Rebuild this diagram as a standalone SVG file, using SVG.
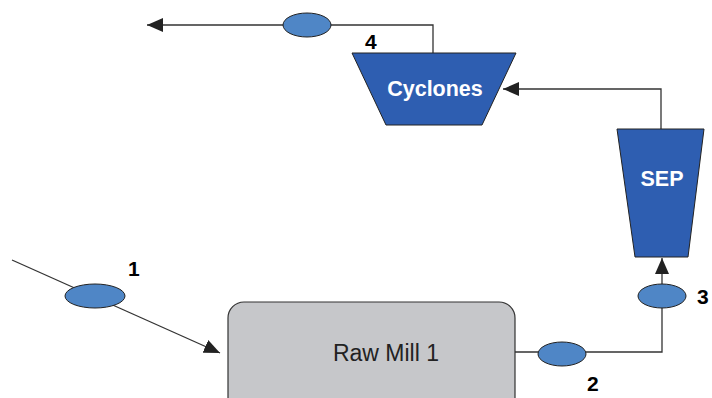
<svg xmlns="http://www.w3.org/2000/svg" width="712" height="398" viewBox="0 0 712 398">
<defs>
<marker id="arr" markerWidth="16" markerHeight="14" refX="16" refY="7" orient="auto" markerUnits="userSpaceOnUse">
<path d="M0,0 L16,7 L0,14 Z" fill="#222"/>
</marker>
<style>
.ln{fill:none;stroke:#333;stroke-width:1.3}
.ell{fill:#4f86c6;stroke:#222;stroke-width:1}
.trap{fill:#2e5eb1;stroke:#222;stroke-width:1}
.wt{font-family:"Liberation Sans",Arial,sans-serif;font-weight:bold;font-size:21.5px;fill:#fff;text-anchor:middle}
.num{font-family:"Liberation Sans",Arial,sans-serif;font-weight:bold;font-size:21px;fill:#000}
</style>
</defs>
<rect width="712" height="398" fill="#fff"/>
<g id="connectors">
<polyline class="ln" points="12,260 220,353" marker-end="url(#arr)"/>
<polyline class="ln" points="515,352 662,352 662,308"/>
<line class="ln" x1="662" y1="284" x2="662" y2="258" marker-end="url(#arr)"/>
<polyline class="ln" points="661,129 661,89 503,89" marker-end="url(#arr)"/>
<polyline class="ln" points="433,53 433,25 147,25" marker-end="url(#arr)"/>
</g>
<g id="rawmill">
<rect x="228" y="302" width="287" height="115" rx="16" fill="#c6c7ca" stroke="#333" stroke-width="1.2"/>
<text x="386" y="361" font-family="'Liberation Sans',Arial,sans-serif" font-size="23" text-anchor="middle" fill="#222">Raw Mill 1</text>
</g>
<g id="cyclones">
<polygon class="trap" points="352,53 516,53 482,125 386,125"/>
<text class="wt" x="435" y="96">Cyclones</text>
</g>
<g id="sep">
<polygon class="trap" points="617,129 704,129 688,257 635,257"/>
<text class="wt" x="662" y="186">SEP</text>
</g>
<g id="s1"><ellipse class="ell" cx="95" cy="296" rx="30" ry="12"/><text class="num" x="128" y="276">1</text></g>
<g id="s2"><ellipse class="ell" cx="562" cy="354" rx="24" ry="12"/><text class="num" x="587" y="391">2</text></g>
<g id="s3"><ellipse class="ell" cx="662" cy="296" rx="24" ry="12"/><text class="num" x="697" y="304">3</text></g>
<g id="s4"><ellipse class="ell" cx="307" cy="25" rx="24" ry="12"/><text class="num" x="365" y="49">4</text></g>
</svg>
